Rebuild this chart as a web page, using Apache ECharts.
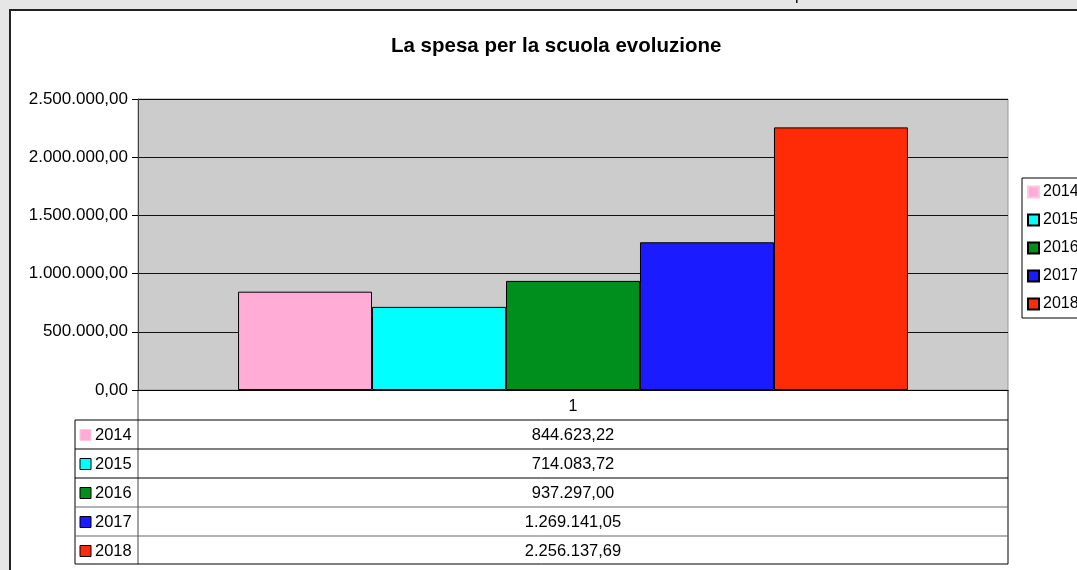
<!DOCTYPE html>
<html>
<head>
<meta charset="utf-8">
<script src="https://cdn.jsdelivr.net/npm/echarts@6/dist/echarts.min.js"></script>
<style>
  html, body { margin: 0; padding: 0; background: #e6e6e6; }
  #chart { width: 1077px; height: 570px; }
</style>
</head>
<body>
<div id="chart"></div>
<script>
// dati
const categories = ['1']
const years = ['2014', '2015', '2016', '2017', '2018']
const values = [844623.22, 714083.72, 937297.00, 1269141.05, 2256137.69]
const colors = ['#ffadd6', '#00ffff', '#008e1c', '#1b1bff', '#ff2a06']
const iconBorders = ['#ffc8e0', '#000', '#000', '#000', '#000']

// formato italiano: 1.234.567,89
const fmt = (v) => {
  const parts = v.toFixed(2).split('.')
  parts[0] = parts[0].replace(/\B(?=(\d{3})+(?!\d))/g, '.')
  return parts[0] + ',' + parts[1]
}

// layout del riquadro e della tabella dati
const gridLeft = 138, gridTop = 99, gridRight = 1008, gridBottom = 390
const colLeft = 75
const rowTop = 420, rowH = 29
const font = 'Liberation Sans, Arial, sans-serif'

const tableGraphics = []
const line = (x1, y1, x2, y2, color) => ({
  type: 'line',
  shape: { x1, y1, x2, y2 },
  style: { stroke: color || '#000', lineWidth: 1 },
  silent: true
})

// bordi della tabella
const tableBottom = rowTop + rowH * years.length - 1
tableGraphics.push(line(gridLeft, gridBottom, gridLeft, tableBottom, '#444'))
tableGraphics.push(line(gridRight, gridBottom, gridRight, tableBottom, '#000'))
tableGraphics.push(line(colLeft, rowTop, colLeft, tableBottom, '#000'))
for (let i = 0; i <= years.length; i++) {
  const y = i === years.length ? tableBottom : rowTop + rowH * i
  tableGraphics.push(line(colLeft, y, gridRight, y, i <= 2 || i === years.length ? '#000' : '#666'))
}
years.forEach((yr, i) => {
  const cy = rowTop + rowH * i + rowH / 2
  tableGraphics.push({
    type: 'rect',
    shape: { x: 80, y: cy - 5, width: 11, height: 11 },
    style: { fill: colors[i], stroke: iconBorders[i], lineWidth: 1 },
    silent: true
  })
  tableGraphics.push({
    type: 'text',
    style: { x: 95, y: cy + 1, text: yr, fill: '#000', font: '16.5px ' + font, textVerticalAlign: 'middle' },
    silent: true
  })
  tableGraphics.push({
    type: 'text',
    style: {
      x: (gridLeft + gridRight) / 2, y: cy + 1, text: fmt(values[i]), fill: '#000',
      font: '16.5px ' + font, textAlign: 'center', textVerticalAlign: 'middle'
    },
    silent: true
  })
})

// riquadro bianco del grafico
const panel = {
  type: 'rect',
  z: -10,
  shape: { x: 10, y: 10, width: 1100, height: 600 },
  style: { fill: '#fff', stroke: '#222', lineWidth: 2 },
  silent: true
}
// frammento di testo tagliato in alto
const topFragment = {
  type: 'text',
  style: { x: 795, y: -12, text: 'p', fill: '#000', font: '16px ' + font },
  silent: true
}

const chart = echarts.init(document.getElementById('chart'))
chart.setOption({
  backgroundColor: '#e6e6e6',
  animation: false,
  title: {
    text: 'La spesa per la scuola evoluzione',
    left: 386,
    top: 31,
    textStyle: { fontFamily: font, fontSize: 20.5, fontWeight: 'bold', color: '#000' }
  },
  legend: {
    orient: 'vertical',
    left: 1022,
    top: 178,
    data: years.map((yr, i) => ({ name: yr, itemStyle: { borderColor: iconBorders[i] } })),
    icon: 'rect',
    itemWidth: 11,
    itemHeight: 11,
    itemGap: 12,
    padding: [6, 6, 6, 5],
    borderColor: '#000',
    borderWidth: 1,
    backgroundColor: '#fff',
    textStyle: { fontFamily: font, fontSize: 16, color: '#000', padding: [0, 0, 0, -1] }
  },
  grid: {
    left: gridLeft,
    top: gridTop,
    right: 1077 - gridRight,
    bottom: 570 - gridBottom,
    show: true,
    backgroundColor: '#cccccc',
    borderColor: '#999',
    borderWidth: 1
  },
  xAxis: {
    type: 'category',
    data: categories,
    axisLine: { lineStyle: { color: '#000' } },
    axisTick: { show: false },
    axisLabel: { color: '#000', fontFamily: font, fontSize: 16, margin: 9 }
  },
  yAxis: {
    type: 'value',
    min: 0,
    max: 2500000,
    interval: 500000,
    axisLine: { show: true, lineStyle: { color: '#444' } },
    axisTick: { show: true, length: 6, lineStyle: { color: '#000' } },
    axisLabel: { color: '#000', fontFamily: font, fontSize: 17, margin: 10, formatter: fmt },
    splitLine: { lineStyle: { color: '#111', width: 1 } }
  },
  series: years.map((yr, i) => ({
    name: yr,
    type: 'bar',
    data: [values[i]],
    barGap: '0%',
    barCategoryGap: '23%',
    itemStyle: { color: colors[i], borderColor: '#000', borderWidth: 1 }
  })),
  graphic: [panel, topFragment].concat(tableGraphics)
})
</script>
</body>
</html>
